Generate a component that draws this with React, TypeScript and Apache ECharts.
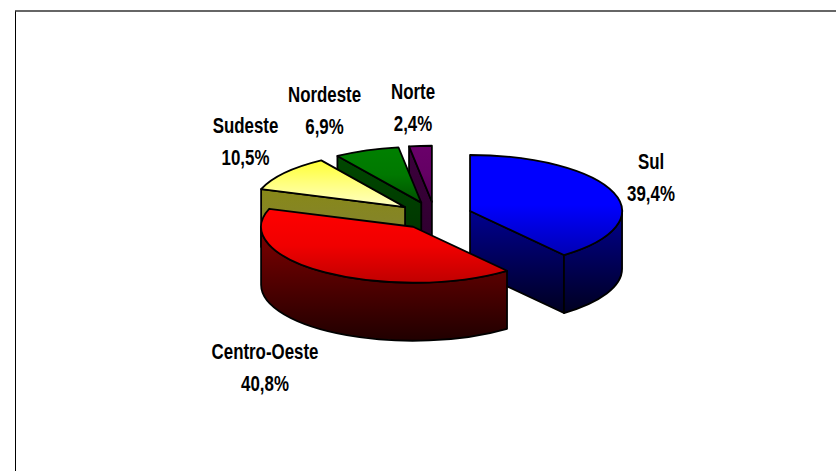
import React, { useEffect, useRef } from "react";
import * as echarts from "echarts";

const categories = ["Sul", "Centro-Oeste", "Sudeste", "Nordeste", "Norte"];
const shares = [39.4, 40.8, 10.5, 6.9, 2.4];

// Painting order (back to front) for each slice, by index in `categories`.
const paintRank = [3, 4, 2, 1, 0];

const topColors = [
  ["#0000ff", "#0000ff", "#0000b4"],
  ["#ff0000", "#f00000", "#c00000"],
  ["#ffff33", "#ffff80", "#ffffc4"],
  ["#008000", "#007800", "#005000"],
  ["#6a006a", "#640064", "#500050"],
];
const sideColors = [
  ["#000090", "#000020"],
  ["#800000", "#200000"],
  ["#888818", "#80803c"],
  ["#004800", "#003000"],
  ["#3c003c", "#2c002c"],
];
const labelAt = [
  [651, 177],
  [265, 367],
  [245.5, 141.5],
  [324.5, 110.5],
  [413, 107],
];

const CX = 434.7;
const CY = 215.5;
const RX = 152;
const RY = 56;
const DEPTH = 58;
const EXPLODE = 37.4;
const rad = (d: number) => (d * Math.PI) / 180;

function grad(stops: string[]) {
  return new echarts.graphic.LinearGradient(
    0, 0, 0, 1,
    stops.map((color, i) => ({ offset: i / (stops.length - 1), color })),
  );
}

function renderItem(params: any, api: any) {
  const i = params.dataIndex;
  const share = api.value(0);
  const before = shares.slice(0, i).reduce((a, b) => a + b, 0);
  const a0 = (before / 100) * 360;
  const a1 = ((before + share) / 100) * 360;
  const mid = rad((a0 + a1) / 2);
  const ax = CX + EXPLODE * Math.sin(mid);
  const ay = CY - (EXPLODE * RY * Math.cos(mid)) / RX;
  const pt = (deg: number, dy = 0) => [
    ax + RX * Math.sin(rad(deg)),
    ay - RY * Math.cos(rad(deg)) + dy,
  ];
  const arc = (to: number[], from: number, end: number, sweep: number) =>
    `A${RX} ${RY} 0 ${Math.abs(end - from) > 180 ? 1 : 0} ${sweep} ${to[0]} ${to[1]}`;
  const p = (q: number[]) => `${q[0]} ${q[1]}`;
  const line = { stroke: "#000", lineWidth: 1.8, lineJoin: "round" };
  const z = paintRank[i] * 10;
  const children: any[] = [];
  const wall = (deg: number, zz: number) => {
    const e = pt(deg);
    const f = pt(deg, DEPTH);
    children.push({
      type: "path",
      z2: zz,
      shape: { pathData: `M${ax} ${ay}L${p(e)}L${p(f)}L${ax} ${ay + DEPTH}Z` },
      style: { fill: grad(sideColors[i]), ...line },
    });
  };
  if (Math.sin(rad(a0)) < -1e-6) wall(a0, z);
  if (Math.sin(rad(a1)) > 1e-6) wall(a1, z);
  const f0 = Math.max(a0, 90);
  const f1 = Math.min(a1, 270);
  if (f1 > f0) {
    const s = pt(f0);
    const e = pt(f1);
    const sd = pt(f0, DEPTH);
    const ed = pt(f1, DEPTH);
    children.push({
      type: "path",
      z2: z + 1,
      shape: {
        pathData: `M${p(s)}${arc(e, f0, f1, 1)}L${p(ed)}${arc(sd, f0, f1, 0)}Z`,
      },
      style: { fill: grad(sideColors[i]), ...line },
    });
  }
  children.push({
    type: "path",
    z2: z + 2,
    shape: {
      pathData: `M${ax} ${ay}L${p(pt(a0))}${arc(pt(a1), a0, a1, 1)}Z`,
    },
    style: { fill: grad(topColors[i]), ...line },
  });
  children.push({
    type: "text",
    z2: 100,
    x: labelAt[i][0],
    y: labelAt[i][1],
    scaleX: 0.75,
    style: {
      text: `${categories[i]}\n${share.toFixed(1).replace(".", ",")}%`,
      x: 0,
      y: 0,
      fontFamily: "Liberation Sans",
      fontWeight: "bold",
      fontSize: 22.5,
      lineHeight: 32,
      align: "center",
      verticalAlign: "middle",
      fill: "#000",
    },
  });
  return { type: "group", children };
}

export default function App() {
  const ref = useRef<HTMLDivElement>(null);
  useEffect(() => {
    document.body.style.margin = "0";
    const chart = echarts.init(ref.current!, null, { renderer: "svg" });
    chart.setOption({
      animation: false,
      backgroundColor: "#fff",
      graphic: [
        { type: "line", shape: { x1: 15.5, y1: 11, x2: 15.5, y2: 471 }, style: { stroke: "#000", lineWidth: 1 } },
        { type: "line", shape: { x1: 15, y1: 11, x2: 836, y2: 11 }, style: { stroke: "#333", lineWidth: 1.6 } },
      ],
      series: [
        {
          type: "custom",
          coordinateSystem: "none",
          renderItem,
          data: shares.map((v, i) => ({ name: categories[i], value: [v] })),
        },
      ],
    });
    return () => chart.dispose();
  }, []);
  return <div ref={ref} style={{ width: 836, height: 471 }} />;
}
